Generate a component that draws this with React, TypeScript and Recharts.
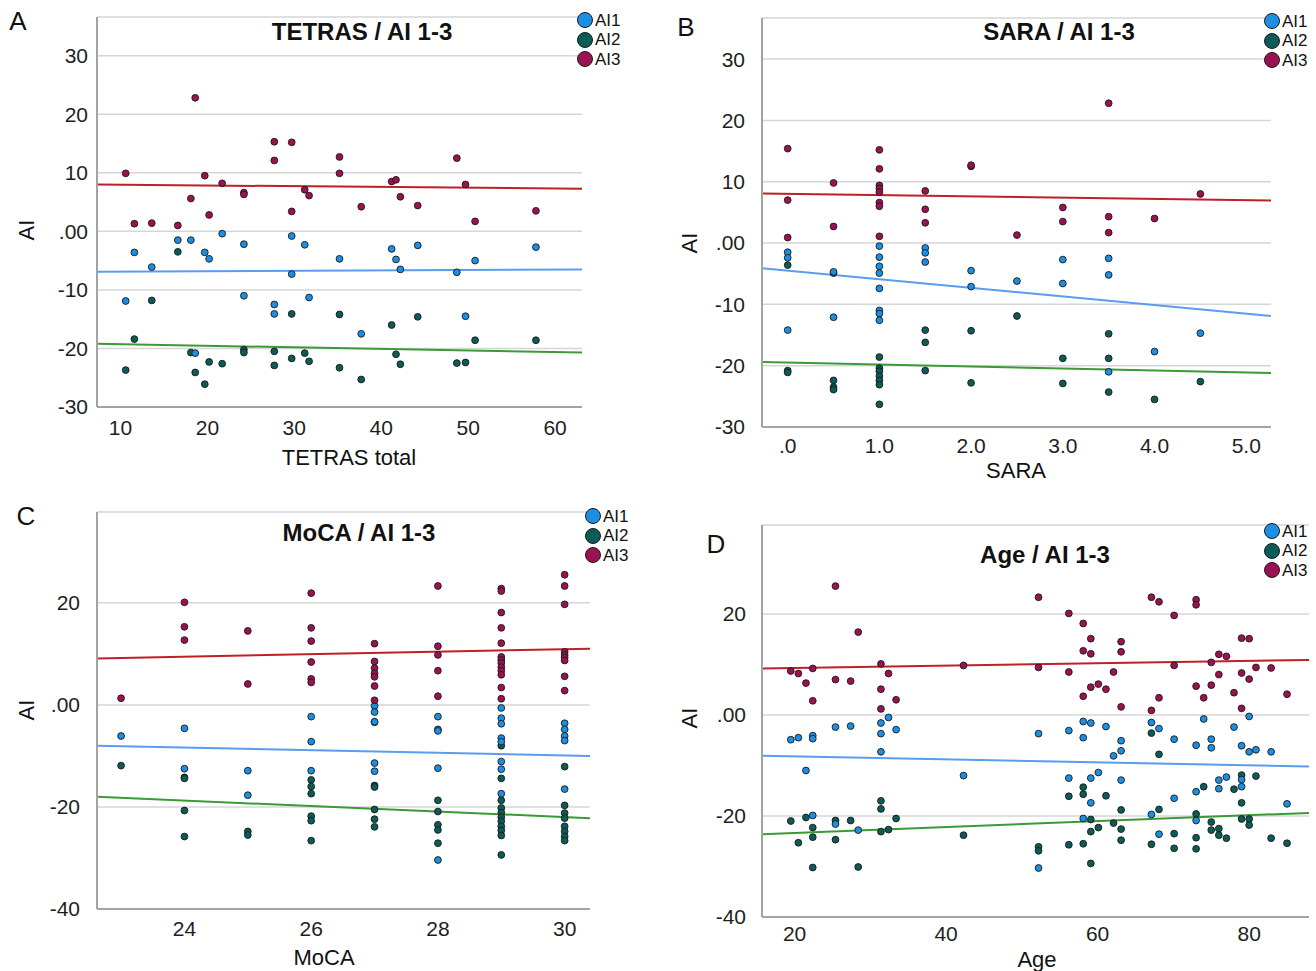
import React from 'react';
import { ScatterChart, Scatter, XAxis, YAxis, CartesianGrid, ReferenceLine } from 'recharts';

type Pt = [number, number];

// ---------- Panel A: TETRAS ----------
const tetrasAI1: Pt[] = [[11.6,-3.6],[13.6,-6.1],[16.6,-1.5],[18.1,-1.5],[19.7,-3.6],[20.2,-4.7],[21.7,-0.4],[24.2,-2.2],[29.7,-0.8],[31.2,-2.3],[29.7,-7.3],[35.2,-4.7],[10.6,-11.9],[24.2,-11.0],[27.7,-12.5],[27.7,-14.1],[31.7,-11.3],[18.6,-20.8],[41.2,-3.0],[41.7,-4.8],[44.2,-2.4],[42.2,-6.5],[48.7,-7.0],[50.8,-5.0],[57.8,-2.7],[49.7,-14.5],[37.7,-17.5]];
const tetrasAI2: Pt[] = [[16.6,-3.5],[13.6,-11.8],[11.6,-18.4],[10.6,-23.7],[18.1,-20.7],[18.6,-24.1],[19.7,-26.1],[20.2,-22.3],[21.7,-22.6],[24.2,-20.2],[24.2,-20.7],[27.7,-20.5],[27.7,-22.9],[29.7,-14.1],[29.7,-21.7],[31.2,-20.8],[31.7,-22.2],[35.2,-14.2],[35.2,-23.3],[41.2,-16.0],[44.2,-14.6],[41.7,-21.0],[42.2,-22.7],[37.7,-25.3],[48.7,-22.5],[49.7,-22.4],[50.8,-18.6],[57.8,-18.6]];
const tetrasAI3: Pt[] = [[10.6,9.9],[18.6,22.8],[19.7,9.5],[18.1,5.6],[20.2,2.8],[21.7,8.2],[24.2,6.6],[24.2,6.3],[27.7,15.3],[29.7,15.2],[27.7,12.1],[31.2,7.1],[31.7,6.1],[29.7,3.4],[35.2,12.7],[35.2,9.9],[48.7,12.5],[41.2,8.5],[41.7,8.8],[49.7,8.0],[42.2,5.9],[44.2,4.4],[37.7,4.2],[57.8,3.5],[50.8,1.7],[11.6,1.3],[13.6,1.4],[16.6,1.0]];
const tetrasFitAI1: Pt[] = [[7.3,-6.9],[63.1,-6.5]];
const tetrasFitAI2: Pt[] = [[7.3,-19.2],[63.1,-20.7]];
const tetrasFitAI3: Pt[] = [[7.3,8.0],[63.1,7.27]];
const tetrasXTicks = [10, 20, 30, 40, 50, 60];
const tetrasYTicks = [-30, -20, -10, 0, 10, 20, 30];

// ---------- Panel B: SARA ----------
const saraAI1: Pt[] = [[0,-1.5],[0,-2.4],[0.5,-4.7],[1,-0.5],[1,-2.3],[1,-3.8],[1,-4.9],[1,-7.4],[1.5,-0.8],[1.5,-1.6],[1.5,-3.1],[2,-4.5],[2,-7.1],[2.5,-6.2],[0,-14.2],[0.5,-12.1],[1,-11.0],[1,-11.5],[1,-12.6],[3,-2.7],[3,-6.6],[3.5,-2.5],[3.5,-5.2],[4.5,-14.7],[4,-17.7],[3.5,-21.0]];
const saraAI2: Pt[] = [[0,-3.6],[0.5,-4.9],[0,-20.8],[0,-21.1],[0.5,-22.4],[0.5,-23.5],[0.5,-23.9],[1,-18.6],[1,-20.4],[1,-20.9],[1,-21.7],[1,-22.4],[1,-23.1],[1,-26.3],[1.5,-14.2],[1.5,-16.2],[1.5,-20.8],[2,-14.3],[2,-22.8],[2.5,-11.9],[3,-18.8],[3,-22.9],[3.5,-14.8],[3.5,-18.8],[3.5,-24.3],[4,-25.5],[4.5,-22.6]];
const saraAI3: Pt[] = [[0,15.4],[0,7.0],[0,0.9],[0.5,9.8],[0.5,2.7],[1,15.2],[1,12.1],[1,9.4],[1,8.9],[1,8.3],[1,6.6],[1,6.0],[1,1.1],[1.5,8.5],[1.5,5.5],[1.5,3.3],[2,12.5],[2,12.7],[2.5,1.3],[3,5.8],[3,3.5],[3.5,22.8],[3.5,4.3],[3.5,1.7],[4,4.0],[4.5,8.0]];
const saraFitAI1: Pt[] = [[-0.28,-4.1],[5.27,-11.9]];
const saraFitAI2: Pt[] = [[-0.28,-19.4],[5.27,-21.2]];
const saraFitAI3: Pt[] = [[-0.28,8.07],[5.27,6.93]];
const saraXTicks = [0, 1, 2, 3, 4, 5];
const saraYTicks = [-30, -20, -10, 0, 10, 20, 30];

// ---------- Panel C: MoCA ----------
const mocaAI1: Pt[] = [[23,-6.1],[24,-4.6],[24,-12.5],[25,-12.9],[25,-17.7],[26,-2.3],[26,-7.2],[26,-12.9],[27,-0.2],[27,-1.4],[27,-3.3],[27,-11.4],[27,-13.0],[28,-2.3],[28,-4.8],[28,-5.1],[28,-12.4],[28,-30.4],[29,-0.6],[29,-2.6],[29,-3.7],[29,-6.5],[29,-7.2],[29,-11.1],[29,-12.6],[29,-17.4],[30,-3.6],[30,-4.8],[30,-6.1],[30,-7.0],[30,-16.5]];
const mocaAI2: Pt[] = [[23,-11.9],[24,-14.2],[24,-14.4],[24,-20.7],[24,-25.8],[25,-24.8],[25,-25.5],[26,-14.7],[26,-16.0],[26,-17.4],[26,-21.8],[26,-22.7],[26,-26.6],[27,-3.4],[27,-15.8],[27,-16.1],[27,-20.5],[27,-22.4],[27,-23.9],[28,-18.7],[28,-20.9],[28,-23.5],[28,-24.5],[28,-27.1],[29,-8.0],[29,-14.4],[29,-18.7],[29,-20.2],[29,-21.1],[29,-22.0],[29,-22.8],[29,-23.8],[29,-24.6],[29,-25.6],[29,-29.4],[30,-12.1],[30,-19.7],[30,-21.2],[30,-22.2],[30,-23.8],[30,-24.8],[30,-25.8],[30,-26.6]];
const mocaAI3: Pt[] = [[23,1.3],[24,20.1],[24,15.3],[24,12.7],[25,14.5],[25,4.1],[26,21.9],[26,15.1],[26,12.5],[26,8.4],[26,5.1],[26,4.4],[27,12.0],[27,8.5],[27,7.2],[27,6.2],[27,5.5],[27,3.7],[27,0.9],[28,23.3],[28,11.5],[28,9.8],[28,6.7],[28,1.7],[29,22.8],[29,22.3],[29,18.1],[29,15.1],[29,12.1],[29,9.4],[29,8.8],[29,8.2],[29,7.4],[29,6.7],[29,5.9],[29,3.4],[29,1.2],[30,25.5],[30,23.3],[30,19.7],[30,10.4],[30,9.8],[30,9.3],[30,8.7],[30,5.6],[30,2.8]];
const mocaFitAI1: Pt[] = [[22.62,-8.0],[30.4,-10.0]];
const mocaFitAI2: Pt[] = [[22.62,-18.0],[30.4,-22.2]];
const mocaFitAI3: Pt[] = [[22.62,9.1],[30.4,11.0]];
const mocaXTicks = [24, 26, 28, 30];
const mocaYTicks = [-40, -20, 0, 20];

// ---------- Panel D: Age ----------
const ageAI1: Pt[] = [[19.5,-4.9],[20.5,-4.5],[22.4,-4.1],[22.4,-4.7],[25.4,-2.4],[27.4,-2.2],[31.4,-1.6],[32.4,-0.5],[31.4,-3.7],[33.4,-2.9],[31.4,-7.3],[21.5,-11.0],[42.3,-12.0],[22.4,-19.9],[25.4,-21.6],[28.4,-22.8],[52.2,-3.7],[56.2,-3.1],[58.1,-1.3],[59.1,-1.6],[61.1,-2.3],[58.1,-4.5],[63.1,-5.1],[63.1,-7.1],[62.1,-8.1],[67.1,-1.5],[68.1,-2.7],[70.1,-4.8],[74.0,-0.8],[73.0,-6.0],[75.0,-4.8],[75.0,-6.5],[78.0,-2.4],[79.0,-6.1],[80.0,-0.3],[80.0,-7.3],[80.9,-6.9],[82.9,-7.3],[56.2,-12.5],[59.1,-12.5],[60.1,-11.4],[63.1,-12.9],[59.1,-17.4],[58.1,-20.5],[67.1,-19.7],[68.1,-23.6],[70.1,-16.5],[73.0,-15.2],[73.0,-20.9],[76.0,-12.9],[77.0,-12.3],[76.0,-14.6],[79.0,-12.8],[79.0,-14.2],[85.0,-17.6],[52.2,-30.3]];
const ageAI2: Pt[] = [[31.4,-17.0],[31.4,-18.6],[33.4,-20.5],[19.5,-21.0],[21.5,-20.3],[25.4,-20.9],[27.4,-20.9],[22.4,-22.3],[22.4,-24.2],[25.4,-24.7],[20.5,-25.3],[31.4,-23.1],[32.4,-22.7],[22.4,-30.2],[28.4,-30.1],[42.3,-23.8],[67.1,-3.6],[68.1,-7.8],[56.2,-16.1],[58.1,-14.3],[58.1,-15.7],[61.1,-16.0],[63.1,-18.8],[59.1,-20.7],[62.1,-21.4],[60.1,-22.3],[59.1,-23.1],[63.1,-22.6],[63.1,-24.8],[56.2,-25.7],[58.1,-25.5],[59.1,-29.4],[52.2,-26.1],[52.2,-26.9],[67.1,-25.6],[68.1,-18.7],[70.1,-23.5],[70.1,-26.4],[73.0,-19.6],[73.0,-24.3],[73.0,-26.5],[74.0,-14.2],[75.0,-21.2],[75.0,-22.8],[76.0,-22.5],[76.0,-23.8],[77.0,-24.4],[78.0,-14.7],[79.0,-11.9],[79.0,-17.4],[79.0,-20.6],[80.0,-20.6],[80.0,-21.8],[80.9,-12.1],[82.9,-24.4],[85.0,-25.4]];
const ageAI3: Pt[] = [[25.4,25.5],[28.4,16.4],[19.5,8.7],[20.5,8.2],[22.4,9.2],[21.5,6.3],[25.4,7.0],[27.4,6.7],[22.4,2.8],[31.4,10.1],[32.4,8.2],[31.4,5.1],[33.4,3.0],[31.4,1.2],[42.3,9.8],[52.2,23.3],[52.2,9.4],[56.2,20.1],[56.2,8.5],[58.1,18.1],[59.1,15.1],[58.1,12.7],[59.1,12.1],[58.1,3.7],[59.1,5.5],[60.1,6.1],[61.1,5.1],[62.1,8.5],[63.1,14.5],[63.1,12.5],[63.1,1.6],[67.1,23.3],[68.1,22.4],[70.1,19.7],[68.1,3.4],[67.1,0.9],[70.1,9.8],[73.0,22.8],[73.0,21.8],[73.0,5.7],[74.0,3.4],[75.0,10.4],[75.0,5.9],[76.0,12.0],[77.0,11.6],[76.0,8.0],[78.0,4.4],[79.0,15.2],[80.0,15.1],[79.0,8.3],[80.0,7.1],[79.0,1.3],[80.9,9.4],[82.9,9.3],[85.0,4.1]];
const ageFitAI1: Pt[] = [[15.7,-8.1],[87.9,-10.2]];
const ageFitAI2: Pt[] = [[15.7,-23.6],[87.9,-19.4]];
const ageFitAI3: Pt[] = [[15.7,9.2],[87.9,10.9]];
const ageXTicks = [20, 40, 60, 80];
const ageYTicks = [-40, -20, 0, 20];

const seriesNames = ['AI1', 'AI2', 'AI3'];

const FONT = '"Liberation Sans", Arial, Helvetica, sans-serif';
const DOT_COLORS: Record<string, string> = { AI1: '#1a8fe3', AI2: '#0b5c56', AI3: '#9c1152' };
const FIT_COLORS: Record<string, string> = { AI1: '#5a9cf0', AI2: '#3b9a35', AI3: '#be2028' };

const toObj = (pts: Pt[]) => pts.map(([x, y]) => ({ x, y }));

const makeDot = (fill: string) => (props: any) => {
  if (props.cx == null || props.cy == null) return <g />;
  return <circle cx={props.cx} cy={props.cy} r={3.4} fill={fill} stroke="#1a1a1a" strokeWidth={0.9} />;
};

const yFmt = (v: number) => (v === 0 ? '.00' : String(v));

interface PanelProps {
  left: number; top: number; width: number; height: number;
  margin: { top: number; right: number; bottom: number; left: number };
  xDomain: [number, number]; yDomain: [number, number];
  xTicks: number[]; yTicks: number[];
  xFmt?: (v: number) => string;
  yTickMargin: number; xTickMargin: number;
  data: Record<string, Pt[]>;
  fits: Record<string, Pt[]>;
}

function Panel(p: PanelProps) {
  const tickStyle = { fill: '#1e1e1e', fontSize: 21, fontFamily: FONT };
  const order = ['AI2', 'AI1', 'AI3'];
  return (
    <div style={{ position: 'absolute', left: p.left, top: p.top }}>
      <ScatterChart width={p.width} height={p.height} margin={p.margin}>
        <CartesianGrid vertical={false} stroke="#d6d6d6" strokeWidth={1.5} />
        <XAxis type="number" dataKey="x" domain={p.xDomain} ticks={p.xTicks} allowDataOverflow
          tickLine={false} axisLine={{ stroke: '#a3a3a3', strokeWidth: 2 }} tick={tickStyle}
          tickFormatter={p.xFmt} height={40} tickMargin={p.xTickMargin} interval={0} />
        <YAxis type="number" dataKey="y" domain={p.yDomain} ticks={p.yTicks} allowDataOverflow
          tickLine={false} axisLine={{ stroke: '#a3a3a3', strokeWidth: 2 }} tick={tickStyle}
          tickFormatter={yFmt} width={60} tickMargin={p.yTickMargin} interval={0} />
        {seriesNames.map((s) => (
          <ReferenceLine key={'fit' + s} ifOverflow="hidden" stroke={FIT_COLORS[s]} strokeWidth={2}
            segment={[{ x: p.fits[s][0][0], y: p.fits[s][0][1] }, { x: p.fits[s][1][0], y: p.fits[s][1][1] }]} />
        ))}
        {order.map((s) => (
          <Scatter key={s} name={s} data={toObj(p.data[s])} isAnimationActive={false}
            shape={makeDot(DOT_COLORS[s])} />
        ))}
      </ScatterChart>
    </div>
  );
}

function Txt({ x, y, size, bold, rotate, children }: any) {
  return (
    <div style={{
      position: 'absolute', left: x, top: y, transform: `translate(-50%, -50%)${rotate ? ' rotate(-90deg)' : ''}`,
      fontFamily: FONT, fontSize: size, fontWeight: bold ? 700 : 400, color: '#111', whiteSpace: 'nowrap', lineHeight: 1,
    }}>{children}</div>
  );
}

function LegendBox({ x, y }: { x: number; y: number }) {
  return (
    <div style={{ position: 'absolute', left: x, top: y }}>
      {seriesNames.map((s, i) => (
        <div key={s} style={{ position: 'absolute', left: 0, top: i * 19.5, display: 'flex', alignItems: 'center', height: 18 }}>
          <svg width={18} height={18} style={{ display: 'block' }}>
            <circle cx={9} cy={9} r={7.5} fill={DOT_COLORS[s]} stroke="#1a1a1a" strokeWidth={1} />
          </svg>
          <span style={{ fontFamily: FONT, fontSize: 17, color: '#111', marginLeft: 1, lineHeight: 1 }}>{s}</span>
        </div>
      ))}
    </div>
  );
}

export default function App() {
  return (
    <div style={{ position: 'absolute', left: 0, top: 0, width: 1316, height: 971, background: '#fff', overflow: 'hidden' }}>
      <Panel left={0} top={0} width={640} height={470}
        margin={{ top: 17, right: 58, bottom: 23, left: 37 }}
        xDomain={[7.3, 63.1]} yDomain={[-30, 36.6]} xTicks={tetrasXTicks} yTicks={tetrasYTicks}
        yTickMargin={3} xTickMargin={7}
        data={{ AI1: tetrasAI1, AI2: tetrasAI2, AI3: tetrasAI3 }}
        fits={{ AI1: tetrasFitAI1, AI2: tetrasFitAI2, AI3: tetrasFitAI3 }} />
      <Panel left={660} top={0} width={656} height={480}
        margin={{ top: 18, right: 45, bottom: 13, left: 42 }}
        xDomain={[-0.28, 5.27]} yDomain={[-30, 36.7]} xTicks={saraXTicks} yTicks={saraYTicks}
        xFmt={(v: number) => (v === 0 ? '.0' : v.toFixed(1))}
        yTickMargin={11} xTickMargin={5}
        data={{ AI1: saraAI1, AI2: saraAI2, AI3: saraAI3 }}
        fits={{ AI1: saraFitAI1, AI2: saraFitAI2, AI3: saraFitAI3 }} />
      <Panel left={0} top={490} width={650} height={470}
        margin={{ top: 22, right: 60, bottom: 11, left: 37 }}
        xDomain={[22.62, 30.4]} yDomain={[-40, 37.8]} xTicks={mocaXTicks} yTicks={mocaYTicks}
        yTickMargin={11} xTickMargin={6}
        data={{ AI1: mocaAI1, AI2: mocaAI2, AI3: mocaAI3 }}
        fits={{ AI1: mocaFitAI1, AI2: mocaFitAI2, AI3: mocaFitAI3 }} />
      <Panel left={660} top={490} width={656} height={470}
        margin={{ top: 35, right: 7, bottom: 3, left: 42 }}
        xDomain={[15.7, 87.9]} yDomain={[-40, 37.6]} xTicks={ageXTicks} yTicks={ageYTicks}
        yTickMargin={10} xTickMargin={3}
        data={{ AI1: ageAI1, AI2: ageAI2, AI3: ageAI3 }}
        fits={{ AI1: ageFitAI1, AI2: ageFitAI2, AI3: ageFitAI3 }} />

      <Txt x={18} y={21} size={26}>A</Txt>
      <Txt x={686} y={27} size={26}>B</Txt>
      <Txt x={26} y={516} size={26}>C</Txt>
      <Txt x={716} y={544} size={26}>D</Txt>

      <Txt x={362} y={32} size={24} bold>TETRAS / AI 1-3</Txt>
      <Txt x={1059} y={32} size={24} bold>SARA / AI 1-3</Txt>
      <Txt x={359} y={533} size={24} bold>MoCA / AI 1-3</Txt>
      <Txt x={1045} y={555} size={24} bold>Age / AI 1-3</Txt>

      <Txt x={27} y={230} size={22} rotate>AI</Txt>
      <Txt x={690} y={243} size={22} rotate>AI</Txt>
      <Txt x={27} y={710} size={22} rotate>AI</Txt>
      <Txt x={690} y={718} size={22} rotate>AI</Txt>

      <Txt x={349} y={458} size={22}>TETRAS total</Txt>
      <Txt x={1016} y={471} size={22}>SARA</Txt>
      <Txt x={324} y={958} size={22}>MoCA</Txt>
      <Txt x={1037} y={960} size={22}>Age</Txt>

      <LegendBox x={576} y={11} />
      <LegendBox x={1263} y={12} />
      <LegendBox x={584} y={507} />
      <LegendBox x={1263} y={522} />
    </div>
  );
}
